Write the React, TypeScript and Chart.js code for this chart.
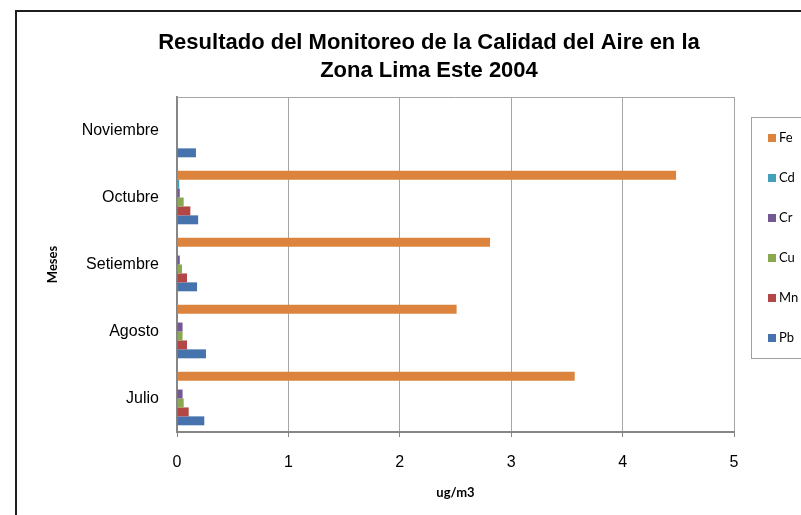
import React, { useEffect, useRef } from 'react';
import { Chart, registerables } from 'chart.js';

Chart.register(...registerables);

// Categories listed top to bottom as drawn
const MONTHS = ['Noviembre', 'Octubre', 'Setiembre', 'Agosto', 'Julio'];
const FE = [null, 4.48, 2.81, 2.51, 3.57];
const CD = [null, 0.02, 0.005, 0.005, 0.005];
const CR = [null, 0.025, 0.025, 0.05, 0.05];
const CU = [null, 0.06, 0.045, 0.05, 0.06];
const MN = [null, 0.12, 0.09, 0.09, 0.105];
const PB = [0.17, 0.19, 0.18, 0.26, 0.245];
const SERIES_NAMES = ['Fe', 'Cd', 'Cr', 'Cu', 'Mn', 'Pb'];
const SERIES_COLORS = ['#DC843D', '#44A0BA', '#735894', '#8AA84F', '#B24745', '#4672AD'];
const TITLE_LINES = ['Resultado del Monitoreo de la Calidad del Aire en la', 'Zona Lima Este 2004'];
const X_TITLE = 'ug/m3';
const Y_TITLE = 'Meses';
const X_MIN = 0;
const X_MAX = 5;
const X_STEP = 1;

const SANS = '"Liberation Sans", Arial, sans-serif';
const CALI = 'Lato, "Open Sans", sans-serif';

const decor = {
  id: 'decor',
  beforeDatasetsDraw(chart: any) {
    const { ctx, chartArea: a } = chart;
    ctx.save();
    ctx.strokeStyle = '#a6a6a6';
    ctx.lineWidth = 1;
    ctx.beginPath();
    ctx.moveTo(a.left, Math.round(a.top) + 0.5);
    ctx.lineTo(a.right, Math.round(a.top) + 0.5);
    ctx.stroke();
    ctx.restore();
  },
  afterDraw(chart: any) {
    const ctx = chart.ctx;
    ctx.save();
    // outer chart border
    ctx.strokeStyle = '#1e1e1e';
    ctx.lineWidth = 2;
    ctx.strokeRect(16, 11, 820, 530);
    // title
    ctx.fillStyle = '#000';
    ctx.font = 'bold 22px ' + SANS;
    ctx.textAlign = 'center';
    ctx.textBaseline = 'middle';
    ctx.fillText(TITLE_LINES[0], 429, 43);
    ctx.fillText(TITLE_LINES[1], 429, 71);
    // legend
    ctx.strokeStyle = '#a0a0a0';
    ctx.lineWidth = 1;
    ctx.strokeRect(751.5, 117.5, 120, 241);
    chart.data.datasets.forEach((ds: any, i: number) => {
      const y = 137.5 + i * 40;
      ctx.fillStyle = ds.backgroundColor;
      ctx.fillRect(768, Math.round(y - 4), 8, 8);
      ctx.fillStyle = '#000';
      ctx.font = '13px ' + CALI;
      ctx.textAlign = 'left';
      ctx.textBaseline = 'middle';
      ctx.fillText(ds.label, 779, y);
    });
    ctx.restore();
  },
};

export default function App() {
  const ref = useRef<HTMLCanvasElement | null>(null);
  useEffect(() => {
    if (!ref.current) return;
    const seriesData = [FE, CD, CR, CU, MN, PB];
    const chart = new Chart(ref.current, {
      type: 'bar',
      data: {
        labels: MONTHS,
        datasets: SERIES_NAMES.map((name, i) => ({
          label: name,
          data: seriesData[i],
          backgroundColor: SERIES_COLORS[i],
          borderWidth: 0,
          categoryPercentage: 0.8,
          barPercentage: 1,
        })),
      },
      options: {
        indexAxis: 'y',
        responsive: false,
        animation: false,
        devicePixelRatio: 1,
        layout: { padding: { top: 97, right: 67, left: 0, bottom: 0 } },
        plugins: {
          legend: { display: false },
          title: { display: false },
          tooltip: { enabled: false },
        },
        scales: {
          x: {
            type: 'linear',
            min: X_MIN,
            max: X_MAX,
            ticks: { stepSize: X_STEP, color: '#000', font: { size: 16, family: SANS }, padding: 16 },
            grid: { color: '#a6a6a6', lineWidth: 1, tickLength: 5, tickColor: '#868686', drawTicks: true },
            border: { color: '#868686', width: 2 },
            title: {
              display: true,
              text: X_TITLE,
              color: '#000',
              font: { family: CALI, weight: 'bold', size: 13 },
              padding: { top: 0, bottom: 14 },
            },
            afterFit: (s: any) => {
              s.height = 83;
            },
          },
          y: {
            ticks: { color: '#000', font: { size: 16, family: SANS }, padding: 18 },
            grid: { display: false, drawTicks: false },
            border: { display: true, color: '#868686', width: 2 },
            title: {
              display: true,
              text: Y_TITLE,
              color: '#000',
              font: { family: CALI, weight: 'bold', size: 13 },
              padding: { top: 45, bottom: 0 },
            },
            afterFit: (s: any) => {
              s.width = 177;
            },
          },
        },
      },
      plugins: [decor],
    } as any);
    return () => chart.destroy();
  }, []);
  return (
    <div style={{ position: 'absolute', left: 0, top: 0, width: 801, height: 515, background: '#fff' }}>
      <canvas ref={ref} width={801} height={515} />
    </div>
  );
}
